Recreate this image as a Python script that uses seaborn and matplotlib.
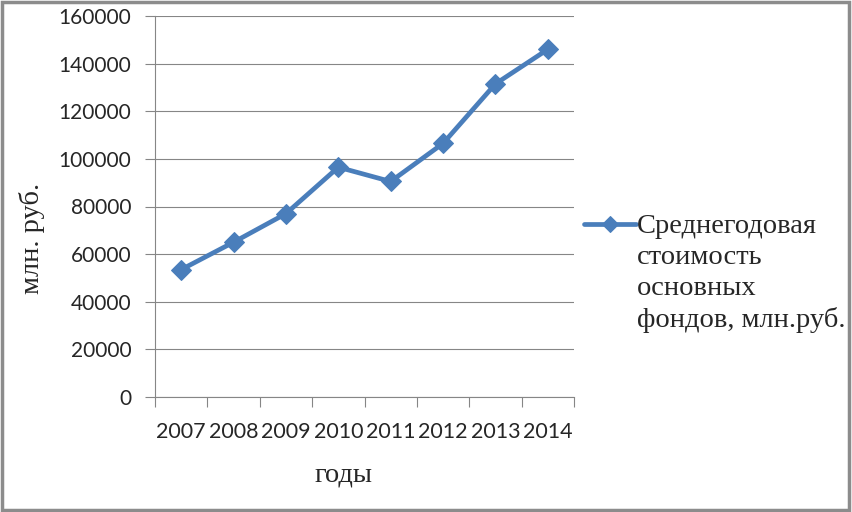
import matplotlib
matplotlib.use('Agg')
import matplotlib.pyplot as plt
import seaborn as sns
import pandas as pd
import numpy as np
from matplotlib.patches import Rectangle

# data
years = ['2007', '2008', '2009', '2010', '2011', '2012', '2013', '2014']
values = [53500, 65000, 77000, 96500, 90500, 106500, 131500, 146000]
y_ticks = [0, 20000, 40000, 60000, 80000, 100000, 120000, 140000, 160000]
series_name = 'Среднегодовая\nстоимость\nосновных\nфондов, млн.руб.'

df = pd.DataFrame({'year': years, 'value': values, 'series': series_name})

sns.set_style('white')
plt.rcParams['font.family'] = ['Lato', 'DejaVu Sans']

line_color = '#4A7EBB'
grid_color = '#868686'

fig = plt.figure(figsize=(8.52, 5.12), dpi=100)
ax = fig.add_axes([155/852, 1-397/512, (574-155)/852, (397-16)/512])

sns.lineplot(data=df, x='year', y='value', hue='series', palette=[line_color],
             marker='D', markersize=10, markeredgecolor=line_color,
             linewidth=3.4, sort=False, ax=ax)

ax.set_xlim(-0.5, len(years) - 0.5)
ax.set_ylim(0, 160000)
ax.set_yticks(y_ticks)
ax.set_yticklabels([str(v) for v in y_ticks])
ax.yaxis.grid(True, color=grid_color, linewidth=0.8)
ax.xaxis.grid(False)

for side in ['top', 'right']:
    ax.spines[side].set_visible(False)
for side in ['left', 'bottom']:
    ax.spines[side].set_color(grid_color)
    ax.spines[side].set_linewidth(0.8)

# category ticks sit between the years, like an Excel chart
ax.set_xticks(np.arange(len(years)))
ax.set_xticklabels(years)
ax.set_xticks(np.arange(len(years) + 1) - 0.5, minor=True)
ax.tick_params(axis='x', which='major', length=0, pad=18, labelsize=15.5)
ax.tick_params(axis='x', which='minor', length=7, width=0.8, color=grid_color, direction='out', bottom=True)
ax.tick_params(axis='y', which='major', length=7, width=0.8, color=grid_color, direction='out', left=True, pad=10, labelsize=15)

ax.set_xlabel('годы', family=['Liberation Serif'], fontsize=20.5)
ax.set_ylabel('млн. руб.', family=['Liberation Serif'], fontsize=20.5)
ax.xaxis.set_label_coords(0.451, -0.172)
ax.yaxis.set_label_coords(-0.2625, 0.415)

leg = ax.legend(loc='upper left', bbox_to_anchor=(584/852, 1-214/512), bbox_transform=fig.transFigure,
                frameon=False, handlelength=1.82, handletextpad=0.05, borderaxespad=0, borderpad=0,
                prop={'family': 'Liberation Serif', 'size': 20.5})
for h in leg.legend_handles:
    h.set_markersize(8)
leg.get_texts()[0].set_linespacing(1.31)
# put the handle level with the first line of the label
for col in leg._legend_handle_box.get_children():
    for item in col.get_children():
        item.align = 'top'

# grey frame round the whole picture
fig.add_artist(Rectangle((0.002, 0.003), 0.995, 0.994, transform=fig.transFigure,
                         fill=False, edgecolor='#8c8c8c', linewidth=2.5))

fig.savefig('out.png', dpi=100)
